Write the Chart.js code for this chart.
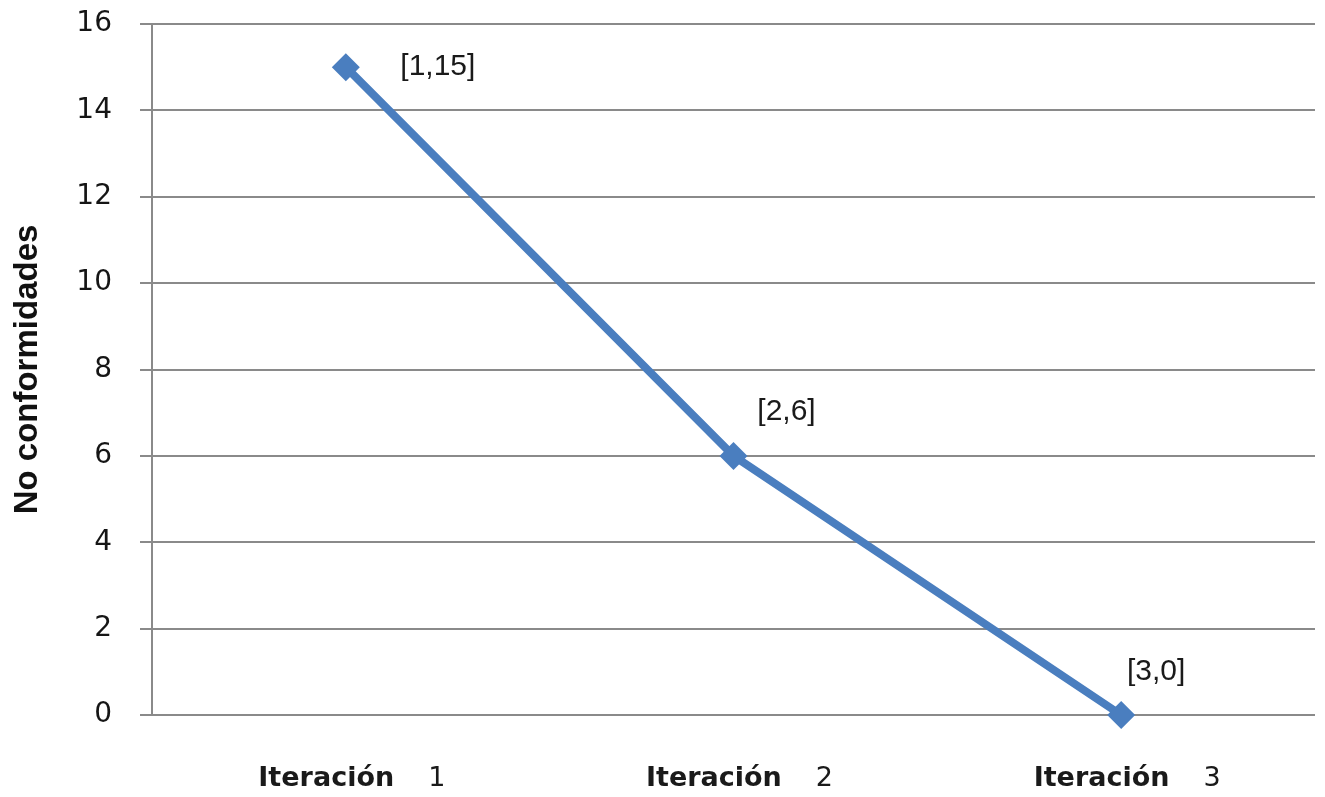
<!DOCTYPE html>
<html>
<head>
<meta charset="utf-8">
<script src="https://cdn.jsdelivr.net/npm/chart.js@4/dist/chart.umd.min.js"></script>
<style>
  html, body { margin: 0; padding: 0; background: #fff; }
  #wrap { width: 1325px; height: 797px; }
</style>
</head>
<body>
<div id="wrap"><canvas id="chart" width="1325" height="797"></canvas></div>
<script>
const categories = ['Iteración 1', 'Iteración 2', 'Iteración 3'];
const noConformidades = [15, 6, 0];
const pointLabels = ['[1,15]', '[2,6]', '[3,0]'];
const yTicks = [0, 2, 4, 6, 8, 10, 12, 14, 16];

// etiquetas de datos junto a cada punto
const pointLabelPlugin = {
  id: 'pointLabelPlugin',
  afterDatasetsDraw(chart, args, opts) {
    const ctx = chart.ctx;
    const meta = chart.getDatasetMeta(0);
    ctx.save();
    ctx.font = opts.font;
    ctx.fillStyle = opts.color;
    ctx.textAlign = 'center';
    ctx.textBaseline = 'middle';
    meta.data.forEach((pt, i) => {
      const off = opts.offsets[i] || [0, 0];
      ctx.fillText(pointLabels[i], pt.x + off[0], pt.y + off[1]);
    });
    ctx.restore();
  }
};

// etiquetas del eje x: palabra en negrita, numero normal
const xLabelPlugin = {
  id: 'xLabelPlugin',
  afterDraw(chart, args, opts) {
    const ctx = chart.ctx;
    const xs = chart.scales.x;
    const y = chart.chartArea.bottom + opts.offsetY;
    ctx.save();
    ctx.fillStyle = opts.color;
    ctx.textBaseline = 'alphabetic';
    ctx.textAlign = 'left';
    categories.forEach((lbl, i) => {
      const cut = lbl.lastIndexOf(' ');
      const word = lbl.slice(0, cut), num = lbl.slice(cut + 1);
      ctx.font = opts.boldFont;
      const w1 = ctx.measureText(word).width;
      ctx.font = opts.font;
      const w2 = ctx.measureText(num).width;
      const total = w1 + opts.gap + w2;
      const cx = xs.getPixelForTick(i);
      let x = cx - total / 2 + opts.shiftX;
      ctx.font = opts.boldFont;
      ctx.fillText(word, x, y);
      ctx.font = opts.font;
      ctx.fillText(num, x + w1 + opts.gap, y);
    });
    ctx.restore();
  }
};

const ctx = document.getElementById('chart').getContext('2d');
new Chart(ctx, {
  type: 'line',
  data: {
    labels: categories,
    datasets: [{
      label: 'No conformidades',
      data: noConformidades,
      borderColor: '#4a7ebf',
      backgroundColor: '#4a7ebf',
      borderWidth: 8,
      pointStyle: 'rectRot',
      pointRadius: 14,
      pointBorderWidth: 0,
      tension: 0,
      clip: false
    }]
  },
  plugins: [pointLabelPlugin, xLabelPlugin],
  options: {
    responsive: false,
    animation: false,
    layout: { autoPadding: false, padding: { top: 0, right: 10, left: 0, bottom: 0 } },
    plugins: {
      legend: { display: false },
      tooltip: { enabled: false },
      pointLabelPlugin: {
        font: '30px "Liberation Sans", Arial, sans-serif',
        color: '#1a1a1a',
        offsets: [[92, 0], [53, -44], [35, -43]]
      },
      xLabelPlugin: {
        boldFont: 'bold 27px "DejaVu Sans", Verdana, sans-serif',
        font: '27px "DejaVu Sans", Verdana, sans-serif',
        color: '#1a1a1a',
        gap: 34,
        shiftX: 6,
        offsetY: 71
      }
    },
    scales: {
      x: {
        offset: true,
        grid: { display: false, drawTicks: false },
        border: { display: false },
        ticks: { display: false },
        afterFit(scale) {
          scale.height = 82;
          scale.paddingLeft = 0;
          scale.paddingRight = 0;
        }
      },
      y: {
        min: 0,
        max: 16,
        afterBuildTicks(scale) { scale.ticks = yTicks.map(v => ({ value: v })); },
        grid: { color: '#8a8a8a', lineWidth: 2, tickLength: 12, drawTicks: true },
        border: { display: true, color: '#8a8a8a', width: 2 },
        ticks: {
          padding: 28,
          color: '#151515',
          font: { family: '"DejaVu Sans", Verdana, sans-serif', size: 28 }
        },
        title: {
          display: true,
          text: 'No conformidades',
          color: '#111',
          font: { family: '"Liberation Sans", Arial, sans-serif', size: 33, weight: 'bold' },
          padding: { top: 8, bottom: 0 }
        },
        afterFit(scale) {
          scale.width = 152;
          scale.paddingTop = 24;
          scale.paddingBottom = 0;
        }
      }
    }
  }
});
</script>
</body>
</html>
